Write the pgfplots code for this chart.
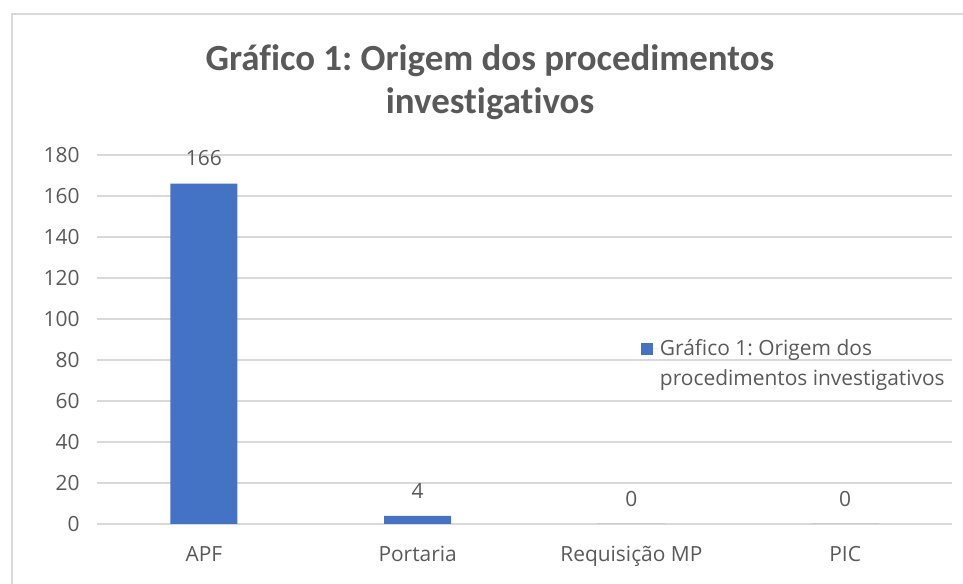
\documentclass[border=0pt]{standalone}
\usepackage{pgfplots}
\pgfplotsset{compat=1.18}
\usepackage{fontspec}
\setmainfont{Open Sans}
\newfontfamily\titlefont[Ligatures=NoCommon]{Carlito}
\definecolor{barblue}{HTML}{4472C4}
\definecolor{txt}{HTML}{595959}
\definecolor{gridc}{HTML}{D9D9D9}
\frenchspacing
\begin{document}
\begin{tikzpicture}[x=1bp,y=1bp]
\path[use as bounding box] (0,0) rectangle (963,584);
\draw[gridc, line width=2bp] (12,-5) -- (12,570) -- (975,570);
\node[txt, font=\titlefont\bfseries\fontsize{37}{43}\selectfont, align=center] at (490,502) {Gráfico 1: Origem dos procedimentos\\investigativos};
\begin{axis}[
  at={(97bp,60bp)}, anchor=south west, scale only axis,
  width=855bp, height=369bp,
  ymin=0, ymax=180, ytick={0,20,...,180},
  xmin=-0.5, xmax=3.5, xtick={0,1,2,3},
  xticklabels={APF,Portaria,Requisição MP,PIC},
  axis line style={draw=none}, major tick length=0pt,
  ymajorgrids, grid style={gridc, line width=1.5bp},
  /pgf/number format/assume math mode=true,
  tick label style={txt, font=\fontsize{21}{25}\selectfont},
  yticklabel style={xshift=-14bp},
  xticklabel style={yshift=-19bp},
  ybar, bar width=67bp,
  nodes near coords,
  every node near coord/.append style={txt, font=\fontsize{21}{25}\selectfont, yshift=14bp},
  legend style={draw=none, fill=none, at={(0.636,0.505)}, anchor=north west,
    font=\fontsize{21}{30}\selectfont, text=txt, cells={align=left}, inner sep=0pt},
  legend image code/.code={\fill[barblue] (-12bp,9bp) rectangle (0bp,21bp); \path (0bp,15bp) -- (5bp,15bp);},
]
\addplot[fill=barblue, draw=none] coordinates {(0,166) (1,4) (2,0) (3,0)};
\addlegendentry{Gráfico 1: Origem dos\\procedimentos investigativos}
\end{axis}
\end{tikzpicture}
\end{document}
